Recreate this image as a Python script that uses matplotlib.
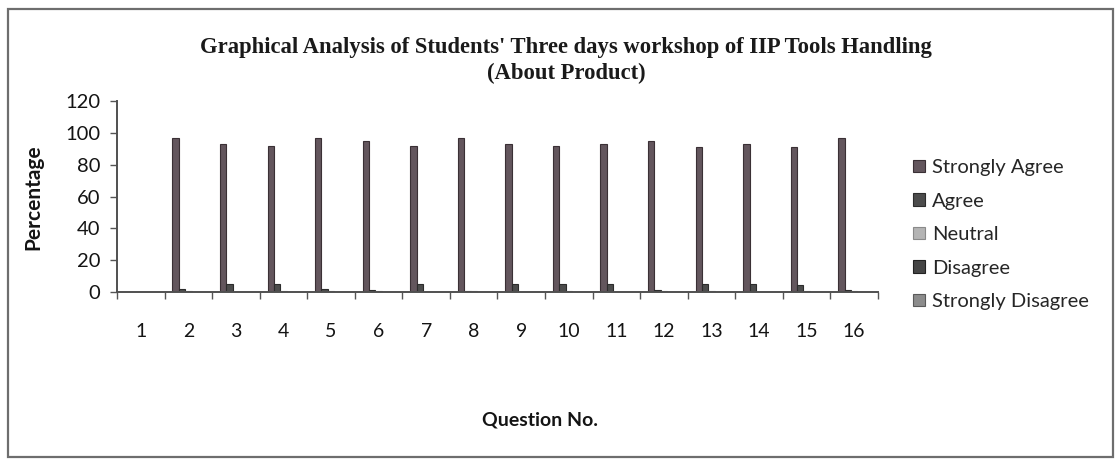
import matplotlib
matplotlib.use("Agg")
import matplotlib.pyplot as plt
import numpy as np
from matplotlib.patches import Rectangle

# -------------------------------------------------------------
# data
# -------------------------------------------------------------
questions = [str(i) for i in range(1, 17)]
series_names = ["Strongly Agree", "Agree", "Neutral", "Disagree", "Strongly Disagree"]
strongly_agree = [0, 97, 93, 91.5, 97, 95, 91.5, 96.5, 93, 91.5, 93, 95, 91, 93, 91, 96.5]
agree = [0, 2, 5, 5, 2, 1, 5, 0.5, 5, 5, 5, 1, 5, 5, 4.5, 1]
neutral = [0, 0.5, 0, 0.5, 0.5, 0.5, 0, 0.5, 0, 0.5, 0, 0.5, 0.5, 0, 0.5, 0.5]
disagree = [0] * 16
strongly_disagree = [0] * 16

series = [strongly_agree, agree, neutral, disagree, strongly_disagree]
fills = ["#63565d", "#4c4c4c", "#b4b4b4", "#454545", "#8c8c8c"]
edges = ["#3a3035", "#2c2c2c", "#8a8a8a", "#222222", "#5a5a5a"]

W, H = 1119, 463
fig = plt.figure(figsize=(W / 100, H / 100), dpi=100)
fig.patch.set_facecolor("white")

# chart-area frame
fig.add_artist(Rectangle((8 / W, 1 - 457 / H), (1113 - 8) / W, (457 - 9) / H,
                         transform=fig.transFigure, fill=False,
                         edgecolor="#6e6e6e", lw=1.6))

ax = fig.add_axes([117 / W, 1 - 292 / H, (878 - 117) / W, (292 - 101) / H])

x = np.arange(len(questions))
bw = 0.134
for k, (vals, name) in enumerate(zip(series, series_names)):
    off = (k - 2) * bw
    ax.bar(x + off, vals, width=bw, color=fills[k], edgecolor=edges[k],
           linewidth=0.8, label=name)

ax.set_ylim(0, 120)
ax.set_yticks(range(0, 121, 20))
ax.set_xlim(-0.5, len(questions) - 0.5)

sans = ["Lato", "DejaVu Sans"]
ax.set_xticks(x)
ax.set_xticklabels(questions, fontsize=14, family=sans, color="#141414")
ax.tick_params(axis="x", length=0, pad=22)
ax.set_xticks(np.arange(-0.5, len(questions), 1.0), minor=True)
ax.tick_params(axis="x", which="minor", length=5, width=1, color="#555555", direction="out")
ax.tick_params(axis="y", length=5, width=1, color="#555555", pad=7,
               labelsize=14.5, labelcolor="#141414")
for lb in ax.get_yticklabels():
    lb.set_family(sans)

for s in ["top", "right"]:
    ax.spines[s].set_visible(False)
for s in ["left", "bottom"]:
    ax.spines[s].set_color("#505050")
    ax.spines[s].set_linewidth(1.4)

fig.text(33 / W, 1 - 197 / H, "Percentage", rotation=90, ha="center", va="center",
         fontsize=15, fontweight="bold", family=sans, color="#141414")
fig.text(540 / W, 1 - 420 / H, "Question No.", ha="center", va="center",
         fontsize=14, fontweight="bold", family=sans, color="#141414")

serif = ["Liberation Serif", "DejaVu Serif"]
fig.text(566 / W, 1 - 47 / H, "Graphical Analysis of Students' Three days workshop of IIP Tools Handling",
         ha="center", va="center", fontsize=16.3, fontweight="bold", family=serif, color="#1a1a1a")
fig.text(566 / W, 1 - 73 / H, "(About Product)",
         ha="center", va="center", fontsize=16.3, fontweight="bold", family=serif, color="#1a1a1a")

leg = fig.legend(loc="upper left", bbox_to_anchor=(899 / W, 1 - 145 / H),
                 frameon=False, prop={"family": sans, "size": 14.5},
                 handlelength=0.6, handleheight=0.6, handletextpad=0.35,
                 labelspacing=0.82, borderpad=0.2)
for t in leg.get_texts():
    t.set_color("#262626")

fig.savefig("out.png", dpi=100)
